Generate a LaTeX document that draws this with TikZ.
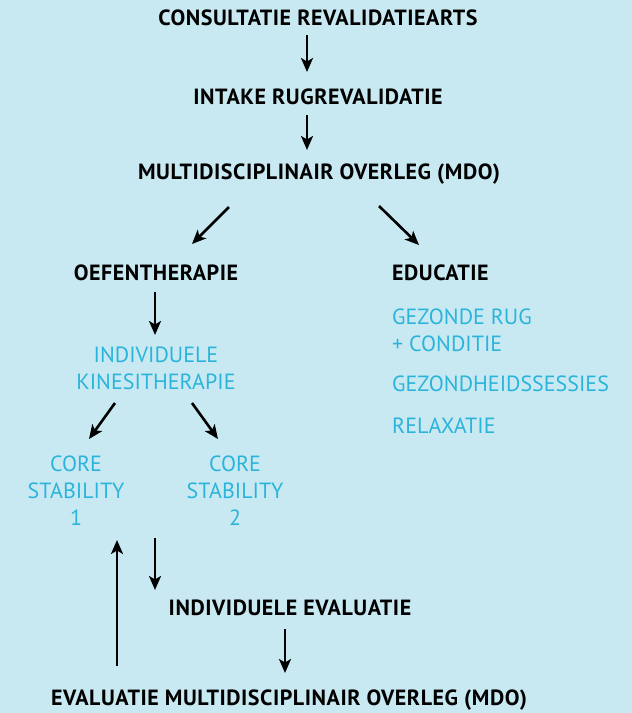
\documentclass[tikz,border=0pt]{standalone}
\usepackage{fontspec}
\setmainfont{PT Sans}
\newfontfamily\stepfont[LetterSpace=2.5]{PT Sans}
\usetikzlibrary{arrows.meta}
\definecolor{bgblue}{HTML}{C8E9F2}
\definecolor{txtblue}{HTML}{2BB4DB}
\begin{document}
\begin{tikzpicture}[
  x=1pt, y=-1pt,
  every node/.style={inner sep=0pt, font=\fontsize{22}{27}\selectfont},
  mainstep/.style={text=black, font=\fontsize{22}{27}\stepfont\bfseries},
  substep/.style={text=txtblue, align=center},
  subitem/.style={text=txtblue, align=left, anchor=west},
  flow/.style={-{Stealth[length=14pt, width=12pt, inset=3.5pt]}, line width=2.6pt}
  ]
  \fill[bgblue] (0,0) rectangle (632,713);
  \useasboundingbox (0,0) rectangle (632,713);
  % main chain
  \node[mainstep] (consult) at (318,18) {CONSULTATIE REVALIDATIEARTS};
  \node[mainstep] (intake) at (318,97) {INTAKE RUGREVALIDATIE};
  \node[mainstep] (mdo) at (319,174) {MULTIDISCIPLINAIR OVERLEG (MDO)};
  \node[mainstep] (oefen) at (156,273) {OEFENTHERAPIE};
  \node[mainstep, anchor=west] (educ) at (392,273) {EDUCATIE};
  % oefentherapie
  \node[substep] (kine) at (156,368) {INDIVIDUELE\\KINESITHERAPIE};
  \node[substep] (core1) at (76,491) {CORE\\STABILITY\\1};
  \node[substep] (core2) at (235,491) {CORE\\STABILITY\\2};
  % educatie
  \node[subitem] (rug) at (392,330) {GEZONDE RUG\\+ CONDITIE};
  \node[subitem] (sessies) at (392,384) {GEZONDHEIDSSESSIES};
  \node[subitem] (relax) at (392,426) {RELAXATIE};
  % evaluatie
  \node[mainstep] (indiv) at (290,608) {INDIVIDUELE EVALUATIE};
  \node[mainstep] (evalmdo) at (289,700) {EVALUATIE MULTIDISCIPLINAIR OVERLEG (MDO)};
  % arrows
  \coordinate (a1) at (307,35);  \coordinate (b1) at (307,72);
  \coordinate (a2) at (307,115); \coordinate (b2) at (307,150);
  \coordinate (a3) at (229,207); \coordinate (b3) at (192,244);
  \coordinate (a4) at (379,206); \coordinate (b4) at (419,245);
  \coordinate (a5) at (155,292); \coordinate (b5) at (155,335);
  \coordinate (a6) at (115,403); \coordinate (b6) at (89,439);
  \coordinate (a7) at (192,403); \coordinate (b7) at (218,439);
  \coordinate (a8) at (155,538); \coordinate (b8) at (155,590);
  \coordinate (a9) at (117,666); \coordinate (b9) at (117,540);
  \coordinate (a10) at (285,629); \coordinate (b10) at (285,673);
  \foreach \i in {1,...,10}
    \draw[flow] (a\i) -- (b\i);
\end{tikzpicture}
\end{document}
